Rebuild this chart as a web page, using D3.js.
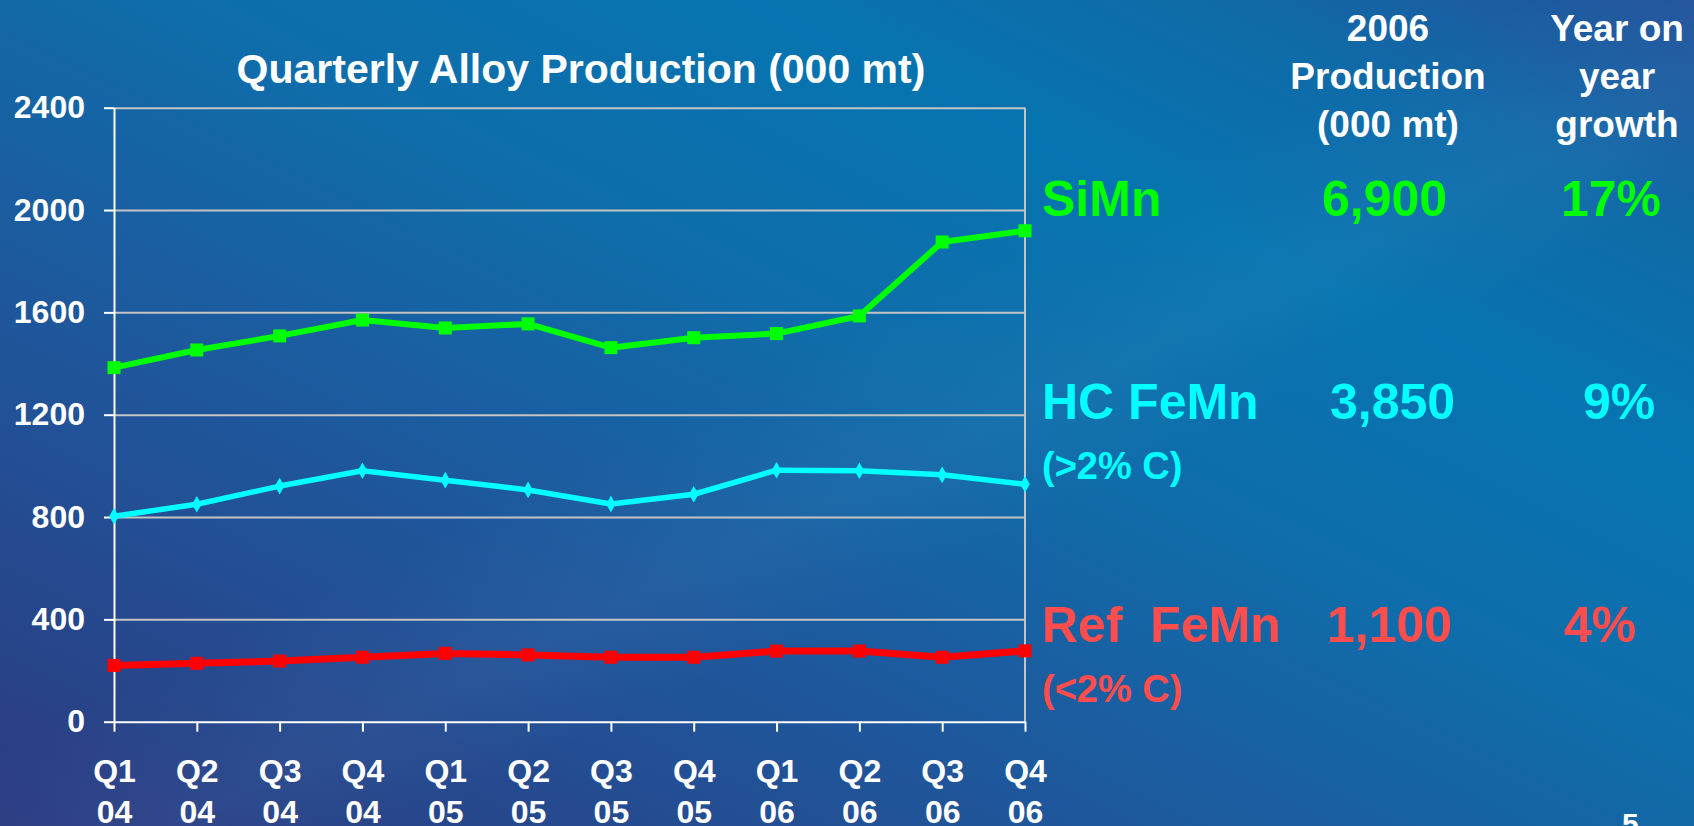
<!DOCTYPE html>
<html>
<head>
<meta charset="utf-8">
<script src="https://cdn.jsdelivr.net/npm/d3@7"></script>
<style>
  html, body { margin: 0; padding: 0; overflow: hidden; }
  body { width: 1694px; height: 826px; }
  text { font-family: "Liberation Sans", Arial, sans-serif; font-weight: bold; }
</style>
</head>
<body>
<div id="chart"></div>
<script>
// quarters along the bottom axis
var quarters = ["Q1", "Q2", "Q3", "Q4", "Q1", "Q2", "Q3", "Q4", "Q1", "Q2", "Q3", "Q4"];
var years = ["04", "04", "04", "04", "05", "05", "05", "05", "06", "06", "06", "06"];

// quarterly production, 000 mt
var siMn = [1384, 1453, 1508, 1570, 1539, 1555, 1462, 1501, 1517, 1586, 1875, 1919];
var hcFeMn = [803, 850, 921, 981, 944, 906, 851, 889, 983, 981, 965, 928];
var refFeMn = [220, 228, 237, 252, 267, 261, 252, 252, 276, 276, 252, 277];

var yTicks = [0, 400, 800, 1200, 1600, 2000, 2400];

// side table
var tableHeads = [["2006", "Production", "(000 mt)"], ["Year on", "year", "growth"]];
var seriesLabels = ["SiMn", "HC FeMn", "Ref  FeMn"];
var seriesNotes = ["", "(>2% C)", "(<2% C)"];
var production2006 = ["6,900", "3,850", "1,100"];
var growth = ["17%", "9%", "4%"];

var W = 1694, H = 826;
var plotL = 114, plotR = 1025, plotT = 107.7, plotB = 721.7;

var svg = d3.select("#chart").append("svg")
    .attr("width", W)
    .attr("height", H);

// background
var defs = svg.append("defs");
var bg = defs.append("linearGradient").attr("id", "bg")
    .attr("x1", 0).attr("y1", 1).attr("x2", 1).attr("y2", 0);
[[0, "#2c3a80"], [0.3, "#20559a"], [0.55, "#0f6dab"], [0.72, "#0674b0"], [0.86, "#106aa8"], [1, "#23529a"]]
  .forEach(function(s) { bg.append("stop").attr("offset", s[0]).attr("stop-color", s[1]); });
var band = defs.append("linearGradient").attr("id", "band")
    .attr("x1", 0).attr("y1", 0).attr("x2", 1).attr("y2", 1);
[[0, 0], [0.45, 0], [0.55, 0.07], [0.62, 0], [1, 0]]
  .forEach(function(s) { band.append("stop").attr("offset", s[0]).attr("stop-color", "#7fb6e0").attr("stop-opacity", s[1]); });

svg.append("rect").attr("width", W).attr("height", H).attr("fill", "url(#bg)");
svg.append("rect").attr("width", W).attr("height", H).attr("fill", "url(#band)");

var x = d3.scalePoint().domain(d3.range(quarters.length)).range([plotL, plotR]);
var y = d3.scaleLinear().domain([0, 2400]).range([plotB, plotT]);

// gridlines
svg.append("g")
    .attr("transform", "translate(" + plotL + ",0)")
    .call(d3.axisLeft(y).tickValues(yTicks.slice(1)).tickSize(-(plotR - plotL)).tickFormat(""))
    .call(function(g) {
      g.select(".domain").remove();
      g.selectAll("line").attr("stroke", "#c4c4c4").attr("stroke-width", 2);
    });

// right border of plot area
svg.append("line")
    .attr("x1", plotR).attr("x2", plotR)
    .attr("y1", plotT).attr("y2", plotB)
    .attr("stroke", "#c4c4c4").attr("stroke-width", 2);

// y axis
svg.append("g")
    .attr("transform", "translate(" + plotL + ",0)")
    .call(d3.axisLeft(y).tickValues(yTicks).tickFormat(d3.format("d"))
      .tickSize(10).tickSizeOuter(0).tickPadding(19))
    .call(function(g) {
      g.select(".domain").attr("stroke", "#fff").attr("stroke-width", 2);
      g.selectAll("line").attr("stroke", "#fff").attr("stroke-width", 2);
      g.selectAll("text").attr("fill", "#fff").style("font-size", "32px")
        .style("font-family", "'Liberation Sans', Arial, sans-serif").style("font-weight", "bold");
    });

// x axis
svg.append("g")
    .attr("transform", "translate(0," + plotB + ")")
    .call(d3.axisBottom(x).tickSize(10).tickSizeOuter(0).tickPadding(0).tickFormat(""))
    .call(function(g) {
      g.select(".domain").attr("stroke", "#fff").attr("stroke-width", 2);
      g.selectAll("line").attr("stroke", "#fff").attr("stroke-width", 2);
      g.selectAll(".tick text").remove();
      g.selectAll(".tick").each(function(d) {
        var t = d3.select(this).append("text")
            .attr("fill", "#fff").attr("text-anchor", "middle")
            .style("font-size", "32px");
        t.append("tspan").attr("x", 0).attr("y", 60).text(quarters[d]);
        t.append("tspan").attr("x", 0).attr("y", 101).text(years[d]);
      });
    });

var line = d3.line()
    .x(function(d, i) { return x(i); })
    .y(function(d) { return y(d); });

function drawSeries(data, color, width, symbol, size) {
  svg.append("path")
      .datum(data)
      .attr("fill", "none")
      .attr("stroke", color)
      .attr("stroke-width", width)
      .attr("stroke-linejoin", "round")
      .attr("d", line);
  svg.selectAll(null)
      .data(data)
      .enter().append("path")
      .attr("transform", function(d, i) { return "translate(" + x(i) + "," + y(d) + ")"; })
      .attr("d", d3.symbol().type(symbol).size(size))
      .attr("fill", color);
}

drawSeries(refFeMn, "#ff0000", 7, d3.symbolSquare, 170);
drawSeries(hcFeMn, "#00ffff", 5.5, d3.symbolDiamond, 80);
drawSeries(siMn, "#00ff00", 6, d3.symbolSquare, 170);

// title
svg.append("text")
    .attr("x", 581).attr("y", 83)
    .attr("text-anchor", "middle")
    .attr("fill", "#fff")
    .style("font-size", "41px")
    .text("Quarterly Alloy Production (000 mt)");

// table headers
var headX = [1388, 1617];
var headY = [41, 89, 137];
tableHeads.forEach(function(col, c) {
  col.forEach(function(s, r) {
    svg.append("text")
        .attr("x", headX[c]).attr("y", headY[r])
        .attr("text-anchor", "middle")
        .attr("fill", "#fff")
        .style("font-size", "37px")
        .text(s);
  });
});

// table rows
var rowColors = ["#00ff00", "#00ffff", "#ff4d4d"];
var rowY = [216, 419, 642];
var prodX = [1322, 1330, 1327];
var growX = [1561, 1583, 1564];
seriesLabels.forEach(function(s, i) {
  var g = svg.append("g").attr("fill", rowColors[i]).style("font-size", "50px");
  g.append("text").attr("x", 1042).attr("y", rowY[i]).style("white-space", "pre").text(s);
  g.append("text").attr("x", prodX[i]).attr("y", rowY[i]).text(production2006[i]);
  g.append("text").attr("x", growX[i]).attr("y", rowY[i]).text(growth[i]);
  if (seriesNotes[i]) {
    g.append("text").attr("x", 1042).attr("y", rowY[i] + 60)
        .style("font-size", "38px").text(seriesNotes[i]);
  }
});

// page number
svg.append("text")
    .attr("x", 1622).attr("y", 834)
    .attr("fill", "#fff")
    .style("font-size", "30px")
    .text("5");
</script>
</body>
</html>
